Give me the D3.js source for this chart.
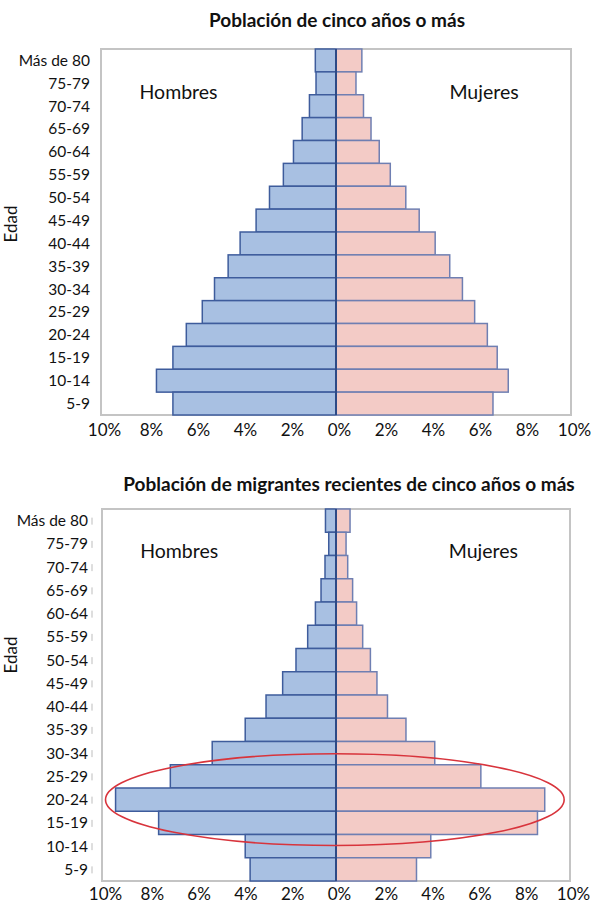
<!DOCTYPE html>
<html><head><meta charset="utf-8">
<script src="https://cdn.jsdelivr.net/npm/d3@7"></script>
<style>
html,body{margin:0;padding:0;background:#fff;}
svg{display:block;font-family:Lato,"Open Sans",sans-serif;}
</style></head>
<body>
<svg id="c" width="597" height="905"></svg>
<script>
// age groups, top to bottom
const ageLabels = ["Más de 80","75-79","70-74","65-69","60-64","55-59","50-54","45-49","40-44","35-39","30-34","25-29","20-24","15-19","10-14","5-9"];
// Población de cinco años o más (%), same order as ageLabels
const totalMen   = [0.88,0.85,1.13,1.44,1.81,2.24,2.83,3.40,4.08,4.59,5.17,5.69,6.37,6.94,7.64,6.94];
const totalWomen = [1.10,0.85,1.17,1.49,1.84,2.31,2.97,3.54,4.22,4.84,5.38,5.90,6.44,6.86,7.33,6.68];
// Población de migrantes recientes de cinco años o más (%)
const migMen   = [0.45,0.31,0.47,0.64,0.88,1.21,1.71,2.28,2.99,3.88,5.29,7.08,9.42,7.58,3.88,3.67];
const migWomen = [0.60,0.43,0.50,0.71,0.88,1.14,1.47,1.75,2.20,2.99,4.22,6.19,8.92,8.61,4.05,3.44];
const tickValues = [-10,-8,-6,-4,-2,0,2,4,6,8,10];
const titles = ["Población de cinco años o más","Población de migrantes recientes de cinco años o más"];

const svg = d3.select("#c");

function pyramid(cfg){
  const {left,right,top,bottom,men,women,title,titleX,titleY,edadY,labelY,tickY,ticks} = cfg;
  const g = svg.append("g");
  const x = d3.scaleLinear().domain([-10,10]).range([left,right]);
  const y = d3.scaleBand().domain(ageLabels).range([top,bottom]).padding(0);

  g.append("rect").attr("x",left).attr("y",top).attr("width",right-left).attr("height",bottom-top)
    .attr("fill","#fff").attr("stroke","#c4c4c4").attr("stroke-width",2);

  g.selectAll(".m").data(men).join("rect")
    .attr("x",d=>x(-d)).attr("y",(d,i)=>y(ageLabels[i]))
    .attr("width",d=>x(0)-x(-d)).attr("height",y.bandwidth())
    .attr("fill","#a8c0e2").attr("stroke","#3e5c9c").attr("stroke-width",1.5);
  g.selectAll(".w").data(women).join("rect")
    .attr("x",x(0)).attr("y",(d,i)=>y(ageLabels[i]))
    .attr("width",d=>x(d)-x(0)).attr("height",y.bandwidth())
    .attr("fill","#f3cbc6").attr("stroke","#6f7fb2").attr("stroke-width",1.5);
  g.append("line").attr("x1",x(0)).attr("x2",x(0)).attr("y1",top).attr("y2",bottom)
    .attr("stroke","#2d4a86").attr("stroke-width",2);

  g.selectAll(".yl").data(ageLabels).join("text")
    .attr("x",left-(ticks?14:11)).attr("y",d=>y(d)+y.bandwidth()/2).attr("dy","0.35em")
    .attr("text-anchor","end").attr("font-size",15.5).attr("fill","#111").text(d=>d);
  if(ticks){
    g.selectAll(".yt").data(ageLabels).join("line")
      .attr("x1",left-10).attr("x2",left-10)
      .attr("y1",d=>y(d)+y.bandwidth()/2-3).attr("y2",d=>y(d)+y.bandwidth()/2+4)
      .attr("stroke","#bdbdbd").attr("stroke-width",1);
  }
  const ax = d3.axisBottom(x).tickValues(tickValues).tickSize(0).tickFormat(d=>Math.abs(d)+"%");
  const axg = g.append("g").attr("transform",`translate(3,${tickY})`).call(ax);
  axg.select(".domain").remove();
  axg.selectAll("text").attr("font-size",17).attr("fill","#111")
    .attr("font-family","Lato,'Open Sans',sans-serif").attr("dy","0.35em").attr("y",0);

  g.append("text").attr("x",titleX).attr("y",titleY).attr("text-anchor","middle")
    .attr("font-size",19).attr("font-weight","bold").attr("fill","#111").text(title);
  g.append("text").attr("transform",`translate(17,${edadY}) rotate(-90)`).attr("text-anchor","middle")
    .attr("font-size",17).attr("fill","#111").text("Edad");
  g.append("text").attr("x",x(-6.7)).attr("y",labelY).attr("dy","0.35em").attr("text-anchor","middle")
    .attr("font-size",19.5).attr("fill","#111").text("Hombres");
  g.append("text").attr("x",x(6.3)).attr("y",labelY).attr("dy","0.35em").attr("text-anchor","middle")
    .attr("font-size",19.5).attr("fill","#111").text("Mujeres");
  return {x,y};
}

pyramid({left:101,right:571,top:49,bottom:415,men:totalMen,women:totalWomen,title:titles[0],
  titleX:337,titleY:27,edadY:224,labelY:92,tickY:430,ticks:false});
const b = pyramid({left:102,right:570,top:509,bottom:881,men:migMen,women:migWomen,title:titles[1],
  titleX:349,titleY:491,edadY:655,labelY:551,tickY:894,ticks:true});

const yb = b.y;
const ey1 = yb("25-29"), ey2 = yb("15-19")+yb.bandwidth();
svg.append("ellipse").attr("cx",b.x(-0.05)).attr("cy",(ey1+ey2)/2)
  .attr("rx",(b.x(9.6)-b.x(-10))/2).attr("ry",(ey2-ey1)/2+11)
  .attr("fill","none").attr("stroke","#d8343c").attr("stroke-width",1.6);
</script>
</body></html>
